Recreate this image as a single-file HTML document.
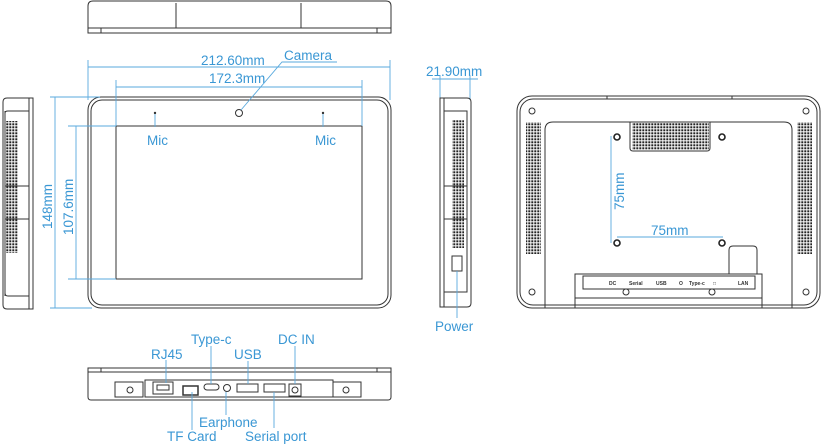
<!DOCTYPE html>
<html><head><meta charset="utf-8"><style>
html,body{margin:0;padding:0;background:#fff;width:823px;height:445px;overflow:hidden}
svg{display:block}
.t{font-family:"Liberation Sans",sans-serif;fill:#3a97d4;font-size:13.5px}
.k{fill:none;stroke:#333;stroke-width:1}
.b{fill:none;stroke:#5aaade;stroke-width:0.9}
</style></head><body>
<svg width="823" height="445" viewBox="0 0 823 445" xmlns="http://www.w3.org/2000/svg">
<defs>
<pattern id="d" x="0" y="0" width="3" height="3" patternUnits="userSpaceOnUse"><rect x="0.3" y="0.3" width="2" height="2" fill="#222"/></pattern>
</defs>
<!-- top view -->
<path class="k" d="M88,33 L88,6 Q88,1 93,1 L386,1 Q391,1 391,6 L391,33 Z" stroke-width="1.2"/>
<line class="k" x1="88" y1="28" x2="391" y2="28"/>
<line class="k" x1="176" y1="3" x2="176" y2="28"/>
<line class="k" x1="301" y1="3" x2="301" y2="28"/>
<line class="k" x1="101" y1="28" x2="101" y2="33"/><line class="k" x1="377" y1="28" x2="377" y2="33"/>

<!-- front view -->
<rect class="k" x="88" y="97" width="303" height="211" rx="13" stroke-width="1.3"/>
<rect class="k" x="91" y="100" width="297" height="205" rx="11"/>
<rect class="k" x="116" y="126" width="246" height="153"/>
<circle class="k" cx="239" cy="113" r="3.5"/>
<circle cx="155" cy="113" r="1.2" fill="#333"/><circle cx="323" cy="113" r="1.2" fill="#333"/>
<line class="b" x1="155" y1="114" x2="155" y2="127"/><line class="b" x1="323" y1="114" x2="323" y2="127"/>
<text class="t" x="147" y="145">Mic</text><text class="t" x="315" y="145">Mic</text>
<line class="b" x1="88" y1="60" x2="88" y2="100"/><line class="b" x1="390" y1="60" x2="390" y2="100"/>
<line class="b" x1="88" y1="67" x2="390" y2="67"/>
<line class="b" x1="116" y1="80" x2="116" y2="126"/><line class="b" x1="362" y1="80" x2="362" y2="126"/>
<line class="b" x1="116" y1="87" x2="362" y2="87"/>
<text class="t" x="201" y="65">212.60mm</text>
<text class="t" x="209" y="83">172.3mm</text>
<text class="t" x="284" y="60">Camera</text>
<polyline class="b" points="337,62 282,62 241,110"/>
<line class="b" x1="50" y1="97" x2="100" y2="97"/><line class="b" x1="50" y1="308" x2="92" y2="308"/>
<line class="b" x1="55" y1="97" x2="55" y2="308"/>
<line class="b" x1="68" y1="126" x2="116" y2="126"/><line class="b" x1="68" y1="279" x2="116" y2="279"/>
<line class="b" x1="76" y1="126" x2="76" y2="279"/>
<text class="t" transform="translate(52,229) rotate(-90)">148mm</text>
<text class="t" transform="translate(73,235) rotate(-90)">107.6mm</text>

<!-- left side -->
<path class="k" d="M3,102 Q3,98 7,98 L33,98 L33,309 L7,309 Q3,309 3,305 Z" stroke-width="1.2"/>
<line class="k" x1="29" y1="98" x2="29" y2="309"/>
<path class="k" d="M5,113 Q5,111 8,111 L29,111 M5,293 Q5,296 8,296 L29,296"/>
<line class="k" x1="5" y1="111" x2="5" y2="296"/>
<line class="k" x1="5" y1="186" x2="29" y2="186"/><line class="k" x1="5" y1="219" x2="29" y2="219"/>
<rect x="6" y="121" width="12" height="132" fill="url(#d)"/>

<!-- right side -->
<text class="t" x="426" y="76">21.90mm</text>
<line class="b" x1="432" y1="79" x2="478" y2="79"/>
<line class="b" x1="440" y1="75" x2="440" y2="100"/><line class="b" x1="470" y1="75" x2="470" y2="100"/>
<path class="k" d="M440,98 L467,98 Q471,98 471,102 L471,303 Q471,307 467,307 L440,307 Z" stroke-width="1.2"/>
<line class="k" x1="444" y1="98" x2="444" y2="307"/>
<path class="k" d="M444,111 L467,111 L467,292 L444,292"/>
<line class="k" x1="444" y1="186" x2="467" y2="186"/><line class="k" x1="444" y1="219" x2="467" y2="219"/>
<rect x="452" y="120" width="12" height="128" fill="url(#d)"/>
<rect class="k" x="452" y="256" width="10" height="15"/>
<line class="b" x1="457" y1="271" x2="457" y2="318"/>
<text class="t" x="435" y="331">Power</text>

<!-- back view -->
<rect class="k" x="517" y="96" width="303" height="212" rx="15" stroke-width="1.3"/>
<rect class="k" x="520" y="99" width="297" height="206" rx="13"/>
<line class="k" x1="607" y1="96" x2="607" y2="99"/><line class="k" x1="732" y1="96" x2="732" y2="99"/>
<path class="k" d="M545,308 L545,130 Q545,122 553,122 L784,122 Q792,122 792,130 L792,308" stroke-width="1.2"/>
<rect x="526" y="122" width="15" height="132" fill="url(#d)"/>
<rect x="797" y="122" width="15" height="132" fill="url(#d)"/>
<path class="k" d="M630,122 L630,148 Q630,151 633,151 L707,151 Q710,151 710,148 L710,122"/>
<rect x="632" y="123" width="77" height="27" fill="url(#d)"/>
<g fill="#fff" stroke="#222" stroke-width="1.6">
<circle cx="617" cy="137" r="3"/><circle cx="722" cy="137" r="3"/><circle cx="617" cy="243" r="3"/><circle cx="722" cy="243" r="3"/>
</g>
<g fill="#fff" stroke="#333" stroke-width="1">
<circle cx="532" cy="111" r="3"/><circle cx="806" cy="111" r="3"/><circle cx="532" cy="292" r="3"/><circle cx="806" cy="292" r="3"/>
<circle cx="626" cy="292" r="3"/><circle cx="712" cy="292" r="3"/>
</g>
<line class="b" x1="611" y1="136" x2="611" y2="243"/>
<line class="b" x1="617" y1="237" x2="723" y2="237"/>
<text class="t" transform="translate(624,210) rotate(-90)">75mm</text>
<text class="t" x="651" y="235">75mm</text>
<path class="k" d="M729,274 L729,250 Q729,246 733,246 L753,246 Q757,246 757,250 L757,274"/>
<path class="k" d="M575,308 L575,274 L762,274 L762,308"/>
<rect class="k" x="583" y="276" width="172" height="13"/>
<line class="k" x1="575" y1="298" x2="762" y2="298"/>
<g font-family="Liberation Sans,sans-serif" font-size="5" font-weight="bold" fill="#333">
<text x="609" y="285">DC</text><text x="629" y="285">Serial</text><text x="656" y="285">USB</text>
<text x="679" y="285">O</text><text x="689" y="285">Type-c</text><text x="713" y="285">□</text><text x="738" y="285">LAN</text>
</g>

<!-- bottom view -->
<path class="k" d="M88,368 L391,368 L391,397 Q391,400 388,400 L91,400 Q88,400 88,397 Z" stroke-width="1.2"/>
<line class="k" x1="88" y1="372" x2="391" y2="372"/>
<line class="k" x1="101" y1="368" x2="101" y2="372"/><line class="k" x1="377" y1="368" x2="377" y2="372"/>
<rect class="k" x="115" y="382" width="28" height="15"/><rect class="k" x="333" y="382" width="28" height="15"/>
<circle class="k" cx="130" cy="390" r="3"/><circle class="k" cx="346" cy="390" r="3"/>
<rect class="k" x="145" y="380" width="188" height="17"/>
<rect class="k" x="153" y="382" width="20" height="12"/>
<path class="k" d="M157,385 h12 v5 h-12z"/>
<rect x="183" y="386" width="15" height="9" fill="none" stroke="#333" stroke-width="1.5"/>
<rect class="k" x="204" y="384" width="15" height="6" rx="3"/>
<circle class="k" cx="227" cy="388" r="3.5" stroke-width="1.5"/>
<rect class="k" x="237" y="384" width="21" height="8"/>
<rect class="k" x="264" y="384" width="21" height="8"/>
<rect class="k" x="289" y="384" width="12" height="12"/><circle class="k" cx="295" cy="390" r="3"/>
<g class="b">
<line x1="166" y1="360" x2="166" y2="383"/>
<line x1="211" y1="346" x2="211" y2="384"/>
<line x1="248" y1="361" x2="248" y2="384"/>
<line x1="295" y1="346" x2="295" y2="384"/>
<line x1="192" y1="392" x2="192" y2="430"/>
<line x1="226" y1="392" x2="226" y2="415"/>
<line x1="274" y1="392" x2="274" y2="428"/>
</g>
<text class="t" x="151" y="359">RJ45</text>
<text class="t" x="191" y="344">Type-c</text>
<text class="t" x="234" y="359">USB</text>
<text class="t" x="278" y="344">DC IN</text>
<text class="t" x="199" y="427">Earphone</text>
<text class="t" x="167" y="441">TF Card</text>
<text class="t" x="245" y="441">Serial port</text>
</svg>
</body></html>
